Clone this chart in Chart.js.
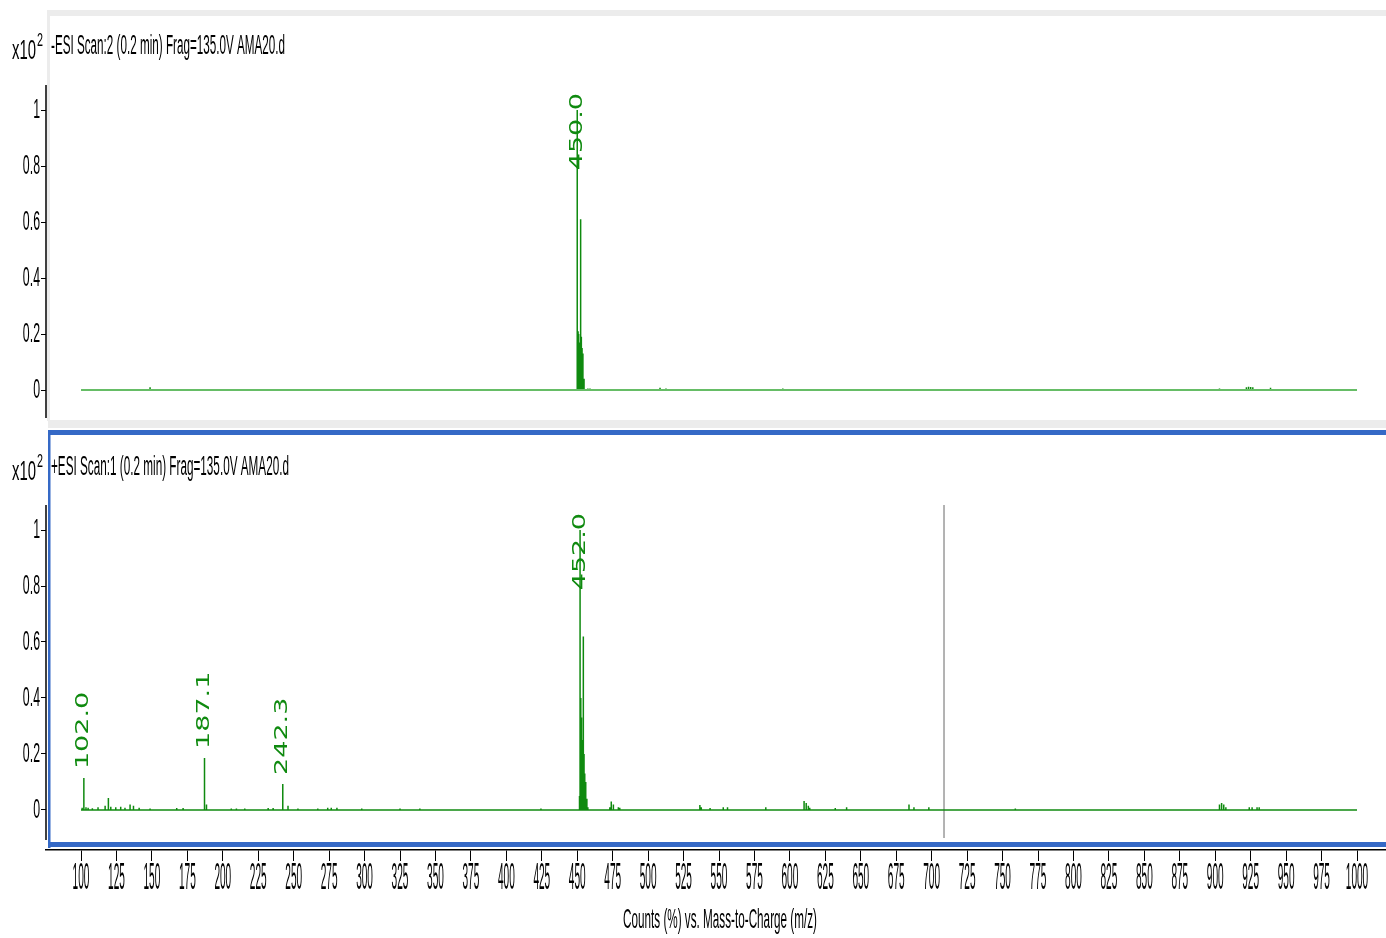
<!DOCTYPE html>
<html>
<head>
<meta charset="utf-8">
<script src="https://cdn.jsdelivr.net/npm/chart.js@4.4.0/dist/chart.umd.min.js"></script>
<style>
html, body { margin: 0; padding: 0; background: #fff; }
#wrap { position: relative; width: 1386px; height: 938px; overflow: hidden; }
.panel { position: absolute; left: 0; width: 1386px; }
</style>
</head>
<body>
<div id="wrap">
  <div class="panel" style="top:0;height:430px"><canvas id="negChart"></canvas></div>
  <div class="panel" style="top:428px;height:510px"><canvas id="posChart"></canvas></div>
</div>
<script>
//spectrum data (counts in x10^2)
const negTitle = '-ESI Scan:2 (0.2 min) Frag=135.0V AMA20.d';
const negMz     = [148.7, 450.0, 450.6, 451.0, 451.5, 452.4, 452.9, 453.4, 454.0, 454.8, 457.5, 459.0, 508.4, 512.6, 595.0, 903.0, 922.0, 923.5, 925.0, 926.5, 939.0];
const negCounts = [0.010, 1.000, 0.210, 0.200, 0.170, 0.610, 0.190, 0.150, 0.130, 0.040, 0.005, 0.005, 0.008, 0.005, 0.005, 0.005, 0.010, 0.012, 0.011, 0.010, 0.008];
const negLabels = [450.0];

const posTitle = '+ESI Scan:1 (0.2 min) Frag=135.0V AMA20.d';
const posMz     = [100.8, 102.0, 103.5, 105.0, 108.0, 112.0, 117.0, 119.3, 121.0, 124.5, 128.0, 131.0, 134.6, 137.0, 141.0, 148.7, 167.5, 172.0,
                   187.1, 188.5, 206.0, 209.6, 215.5, 232.0, 235.5, 242.3, 246.0, 253.0, 267.0, 274.0, 276.5, 280.5, 298.0, 325.0, 339.0, 424.4,
                   451.6, 452.0, 452.5, 453.0, 453.5, 454.3, 454.8, 455.3, 456.0, 456.8, 457.5, 473.0, 474.0, 475.5, 479.0, 480.0,
                   536.5, 537.5, 543.7, 553.0, 556.0, 583.0, 610.0, 611.5, 613.0, 614.0, 632.0, 640.0, 684.0, 687.5, 698.0, 759.0,
                   903.0, 904.5, 906.0, 907.5, 924.0, 926.0, 929.5, 931.0];
const posCounts = [0.008, 0.114, 0.010, 0.008, 0.006, 0.010, 0.015, 0.043, 0.012, 0.010, 0.012, 0.008, 0.020, 0.015, 0.008, 0.005, 0.007, 0.007,
                   0.186, 0.020, 0.005, 0.005, 0.005, 0.007, 0.007, 0.093, 0.015, 0.005, 0.005, 0.008, 0.008, 0.008, 0.005, 0.005, 0.005, 0.005,
                   0.050, 1.000, 0.400, 0.330, 0.250, 0.620, 0.200, 0.130, 0.100, 0.040, 0.010, 0.010, 0.030, 0.020, 0.010, 0.008,
                   0.018, 0.010, 0.007, 0.010, 0.010, 0.010, 0.032, 0.025, 0.015, 0.008, 0.007, 0.010, 0.020, 0.010, 0.010, 0.005,
                   0.020, 0.025, 0.020, 0.010, 0.010, 0.010, 0.010, 0.010];
const posLabels = [102.0, 187.1, 242.3, 452.0];
const cursorMz = 708.7;

const mzRange = [100, 1000];
const xTicks = [];
for (let v = 100; v <= 1000; v += 25) xTicks.push(v);
const yTicks = [0, 0.2, 0.4, 0.6, 0.8, 1];

const axisFont = "'Liberation Sans', Arial, sans-serif";
const peakFont = "'DejaVu Sans', Verdana, sans-serif";
const green = '#0f8a0f';

//turn a peak list into vertical sticks
function sticks(mz, counts) {
    let pts = [];
    for (var i = 0; i < mz.length; i++) {
        pts.push({x: mz[i], y: 0}, {x: mz[i], y: counts[i]}, {x: mz[i], y: null});
    }
    return pts;
}

//text drawn narrow, like the instrument printout
function narrowText(ctx, text, x, y, size, sx, align, color, family) {
    ctx.save();
    ctx.font = size + 'px ' + (family || axisFont);
    ctx.fillStyle = color || '#000';
    ctx.textBaseline = 'middle';
    ctx.textAlign = 'left';
    const w = ctx.measureText(text).width * sx;
    let left = x;
    if (align === 'right') left = x - w;
    else if (align === 'center') left = x - w / 2;
    ctx.translate(left, y);
    ctx.scale(sx, 1);
    ctx.fillText(text, 0, 0);
    ctx.restore();
}

function fitText(ctx, text, x, y, size, width, align, color) {
    ctx.save();
    ctx.font = size + 'px ' + axisFont;
    const sx = width / ctx.measureText(text).width;
    ctx.restore();
    narrowText(ctx, text, x, y, size, sx, align, color);
}

const framePlugin = {
    id: 'frame',
    beforeDraw(chart, args, opts) {
        const ctx = chart.ctx;
        ctx.save();
        if (opts.kind === 'top') {
            ctx.fillStyle = '#ececec';
            ctx.fillRect(48, 10, 1338, 6);
            ctx.fillRect(47, 10, 3, 411);
            ctx.fillRect(48, 420, 1338, 8);
        } else {
            ctx.fillStyle = '#3569c6';
            ctx.fillRect(48, 2, 1338, 5);
            ctx.fillRect(48, 2, 2.5, 418);
            ctx.fillRect(48, 414, 1338, 5);
        }
        ctx.restore();
    }
};

const textPlugin = {
    id: 'texts',
    afterDraw(chart, args, opts) {
        const ctx = chart.ctx;
        const area = chart.chartArea;
        const xs = chart.scales.x, ys = chart.scales.y;

        //y axis line
        ctx.save();
        ctx.strokeStyle = '#000';
        ctx.lineWidth = 1.5;
        ctx.beginPath();
        ctx.moveTo(area.left, area.top);
        ctx.lineTo(area.left, area.bottom - opts.axisCut);
        ctx.stroke();
        ctx.restore();

        //y tick labels
        yTicks.forEach(v => {
            narrowText(ctx, String(+v.toFixed(1)), area.left - 6, ys.getPixelForValue(v), 28, 0.44, 'right');
        });

        //x10^2 and scan title
        const ty = area.top - opts.titleGap;
        fitText(ctx, 'x10', 12, ty + 4, 28, 24, 'left');
        narrowText(ctx, '2', 37, ty - 6, 18, 0.6, 'left');
        fitText(ctx, opts.title, 51, ty, 27, opts.titleWidth, 'left');

        //x tick labels and axis title
        if (opts.showX) {
            xTicks.forEach(v => {
                narrowText(ctx, String(v), xs.getPixelForValue(v), area.bottom + 29, 36, 0.28, 'center');
            });
            fitText(ctx, 'Counts (%) vs. Mass-to-Charge (m/z)', 720, area.bottom + 70, 28, 194, 'center');
        }

        //peak labels
        ctx.save();
        ctx.font = '27px ' + peakFont;
        ctx.fillStyle = green;
        opts.labels.forEach(m => {
            const i = opts.mz.indexOf(m);
            const txt = m.toFixed(1);
            const len = ctx.measureText(txt).width;
            const px = xs.getPixelForValue(m);
            const top = ys.getPixelForValue(opts.counts[i]);
            const start = Math.max(top - 9, area.top + 8 + len);
            ctx.save();
            ctx.translate(px, start);
            ctx.rotate(-Math.PI / 2);
            ctx.scale(1, 0.65);
            ctx.textBaseline = 'middle';
            ctx.textAlign = 'left';
            ctx.fillText(txt, 0, 0);
            ctx.restore();
        });
        ctx.restore();
    }
};

function makeConfig(datasets, yMin, pad, showX, plug) {
    return {
        type: 'line',
        data: { datasets: datasets },
        options: {
            responsive: true,
            maintainAspectRatio: false,
            animation: false,
            spanGaps: false,
            layout: { padding: pad },
            elements: { point: { radius: 0 }, line: { tension: 0 } },
            plugins: {
                legend: { display: false },
                tooltip: { enabled: false },
                frame: { kind: showX ? 'bottom' : 'top' },
                texts: plug
            },
            scales: {
                x: {
                    type: 'linear',
                    min: 75.3,
                    max: 1020.45,
                    display: showX,
                    afterBuildTicks: (s) => { s.ticks = xTicks.map(v => ({value: v})); },
                    afterFit: (s) => { s.height = showX ? 88 : 0; },
                    ticks: { display: false },
                    grid: { drawOnChartArea: false, drawTicks: true, tickLength: 11, color: '#000', lineWidth: 1 },
                    border: { display: true, color: '#000', width: 1.5 }
                },
                y: {
                    type: 'linear',
                    min: yMin,
                    max: 1.0893,
                    afterBuildTicks: (s) => { s.ticks = yTicks.map(v => ({value: v})); },
                    afterFit: (s) => { s.width = 46; },
                    ticks: { display: false },
                    grid: { drawOnChartArea: false, drawTicks: true, tickLength: 5, color: '#000', lineWidth: 1 },
                    border: { display: false }
                }
            }
        },
        plugins: [framePlugin, textPlugin]
    };
}

new Chart(document.getElementById('negChart'), makeConfig([
    { data: [{x: mzRange[0], y: 0}, {x: mzRange[1], y: 0}], borderColor: '#66bd66', borderWidth: 2 },
    { data: sticks(negMz, negCounts), borderColor: green, borderWidth: 1.5 }
], -0.1, {top: 85, bottom: 12, left: 0, right: 0}, false,
{ title: negTitle, titleWidth: 234, titleGap: 38, axisCut: 0, labels: negLabels, mz: negMz, counts: negCounts, showX: false }));

new Chart(document.getElementById('posChart'), makeConfig([
    { data: [{x: mzRange[0], y: 0}, {x: mzRange[1], y: 0}], borderColor: green, borderWidth: 1.5 },
    { data: sticks(posMz, posCounts), borderColor: green, borderWidth: 1.5 },
    { data: [{x: cursorMz, y: -0.1}, {x: cursorMz, y: 1.0893}], borderColor: '#9a9a9a', borderWidth: 1.5 }
], -0.1429, {top: 77, bottom: 0, left: 0, right: 0}, true,
{ title: posTitle, titleWidth: 238, titleGap: 37, axisCut: 10, labels: posLabels, mz: posMz, counts: posCounts, showX: true }));
</script>
</body>
</html>
